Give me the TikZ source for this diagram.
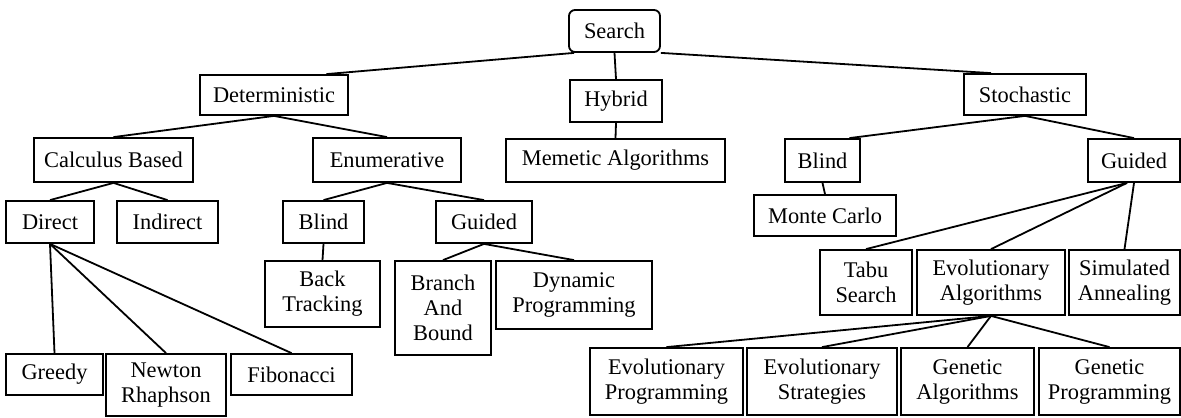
\documentclass[tikz,border=0pt]{standalone}
\usepackage{fontspec}
\setmainfont{Liberation Serif}
\usetikzlibrary{calc}

\begin{document}
\begin{tikzpicture}[
    x=0.5pt, y=-0.5pt,
    box/.style={rectangle, draw, line width=0.9pt, inner sep=1pt, align=center, font=\fontsize{11.2}{12.5}\selectfont},
    link/.style={line width=0.9pt},
]
\useasboundingbox (0,0) rectangle (1181,417);

% level 0 and 1
\node[box, rounded corners=3pt, minimum width=45.5pt, minimum height=21pt] (search) at (614.5,31) {Search};
\node[box, minimum width=74pt, minimum height=20pt] (det) at (274,95) {Deterministic};
\node[box, minimum width=46pt, minimum height=21pt] (hyb) at (616,101) {Hybrid};
\node[box, minimum width=61pt, minimum height=20.5pt] (sto) at (1025,94.5) {Stochastic};

% level 2
\node[box, minimum width=79.5pt, minimum height=22pt] (calc) at (113.5,160) {Calculus Based};
\node[box, minimum width=74pt, minimum height=22pt] (enu) at (387,160) {Enumerative};
\node[box, minimum width=109.5pt, minimum height=21.5pt] (mem) at (615.5,160.5) {Memetic Algorithms};
\node[box, minimum width=37.5pt, minimum height=21.5pt] (sblind) at (822.5,160.5) {Blind};
\node[box, minimum width=46pt, minimum height=21.5pt] (sguid) at (1134,160.5) {Guided};

% level 3
\node[box, minimum width=44pt, minimum height=21pt] (dir) at (50,222) {Direct};
\node[box, minimum width=50.5pt, minimum height=21pt] (ind) at (167.5,222) {Indirect};
\node[box, minimum width=40.5pt, minimum height=21pt] (eblind) at (323.5,222) {Blind};
\node[box, minimum width=48pt, minimum height=21pt] (eguid) at (484,222) {Guided};
\node[box, minimum width=71pt, minimum height=20.5pt] (monte) at (825,215.5) {Monte Carlo};

% level 4
\node[box, minimum width=57.5pt, minimum height=33pt] (back) at (322.5,294) {Back\\Tracking};
\node[box, minimum width=48pt, minimum height=47pt] (branch) at (443,308) {Branch\\And\\Bound};
\node[box, minimum width=78pt, minimum height=34pt] (dyn) at (574,295) {Dynamic\\Programming};
\node[box, minimum width=46pt, minimum height=32.5pt] (tabu) at (866,282.5) {Tabu\\Search};
\node[box, minimum width=74pt, minimum height=32.5pt] (evo) at (991,282.5) {Evolutionary\\Algorithms};
\node[box, minimum width=55.5pt, minimum height=32.5pt] (sim) at (1124.5,282.5) {Simulated\\Annealing};

% bottom row
\node[box, minimum width=48.5pt, minimum height=20.5pt] (greedy) at (54.5,374.5) {Greedy};
\node[box, minimum width=60pt, minimum height=31pt] (newton) at (166,385) {Newton\\Rhaphson};
\node[box, minimum width=60.5pt, minimum height=20.5pt] (fib) at (291.5,374.5) {Fibonacci};
\node[box, minimum width=76.5pt, minimum height=33.5pt] (ep) at (666.5,381.5) {Evolutionary\\Programming};
\node[box, minimum width=75pt, minimum height=33.5pt] (es) at (822,381.5) {Evolutionary\\Strategies};
\node[box, minimum width=66.5pt, minimum height=33.5pt] (ga) at (967.5,381.5) {Genetic\\Algorithms};
\node[box, minimum width=70.5pt, minimum height=33.5pt] (gp) at (1109.5,381.5) {Genetic\\Programming};

% connectors
\draw[link] ([xshift=3pt]search.south west) -- ($(det.north)!0.7!(det.north east)$);
\draw[link] (search.south) -- (hyb.north);
\draw[link] (search.south east) -- ($(sto.north)!0.55!(sto.north west)$);
\draw[link] (det.south) -- (calc.north);
\draw[link] (det.south) -- (enu.north);
\draw[link] (hyb.south) -- (mem.north);
\draw[link] (sto.south) -- ($(sblind.north)!0.7!(sblind.north east)$);
\draw[link] (sto.south) -- (sguid.north);
\draw[link] (calc.south) -- (dir.north);
\draw[link] (calc.south) -- (ind.north);
\draw[link] (enu.south) -- (eblind.north);
\draw[link] (enu.south) -- (eguid.north);
\draw[link] (sblind.south) -- (monte.north);
\draw[link] ([xshift=-3.5pt]sguid.south) -- (tabu.north);
\draw[link] ([xshift=-3.5pt]sguid.south) -- (evo.north);
\draw[link] (sguid.south) -- (sim.north);
\draw[link] (dir.south) -- (greedy.north);
\draw[link] (dir.south) -- (newton.north);
\draw[link] (dir.south) -- (fib.north);
\draw[link] (eblind.south) -- (back.north);
\draw[link] (eguid.south) -- (branch.north);
\draw[link] (eguid.south) -- (dyn.north);
\draw[link] (evo.south) -- (ep.north);
\draw[link] (evo.south) -- (es.north);
\draw[link] (evo.south) -- (ga.north);
\draw[link] (evo.south) -- (gp.north);

\end{tikzpicture}
\end{document}
